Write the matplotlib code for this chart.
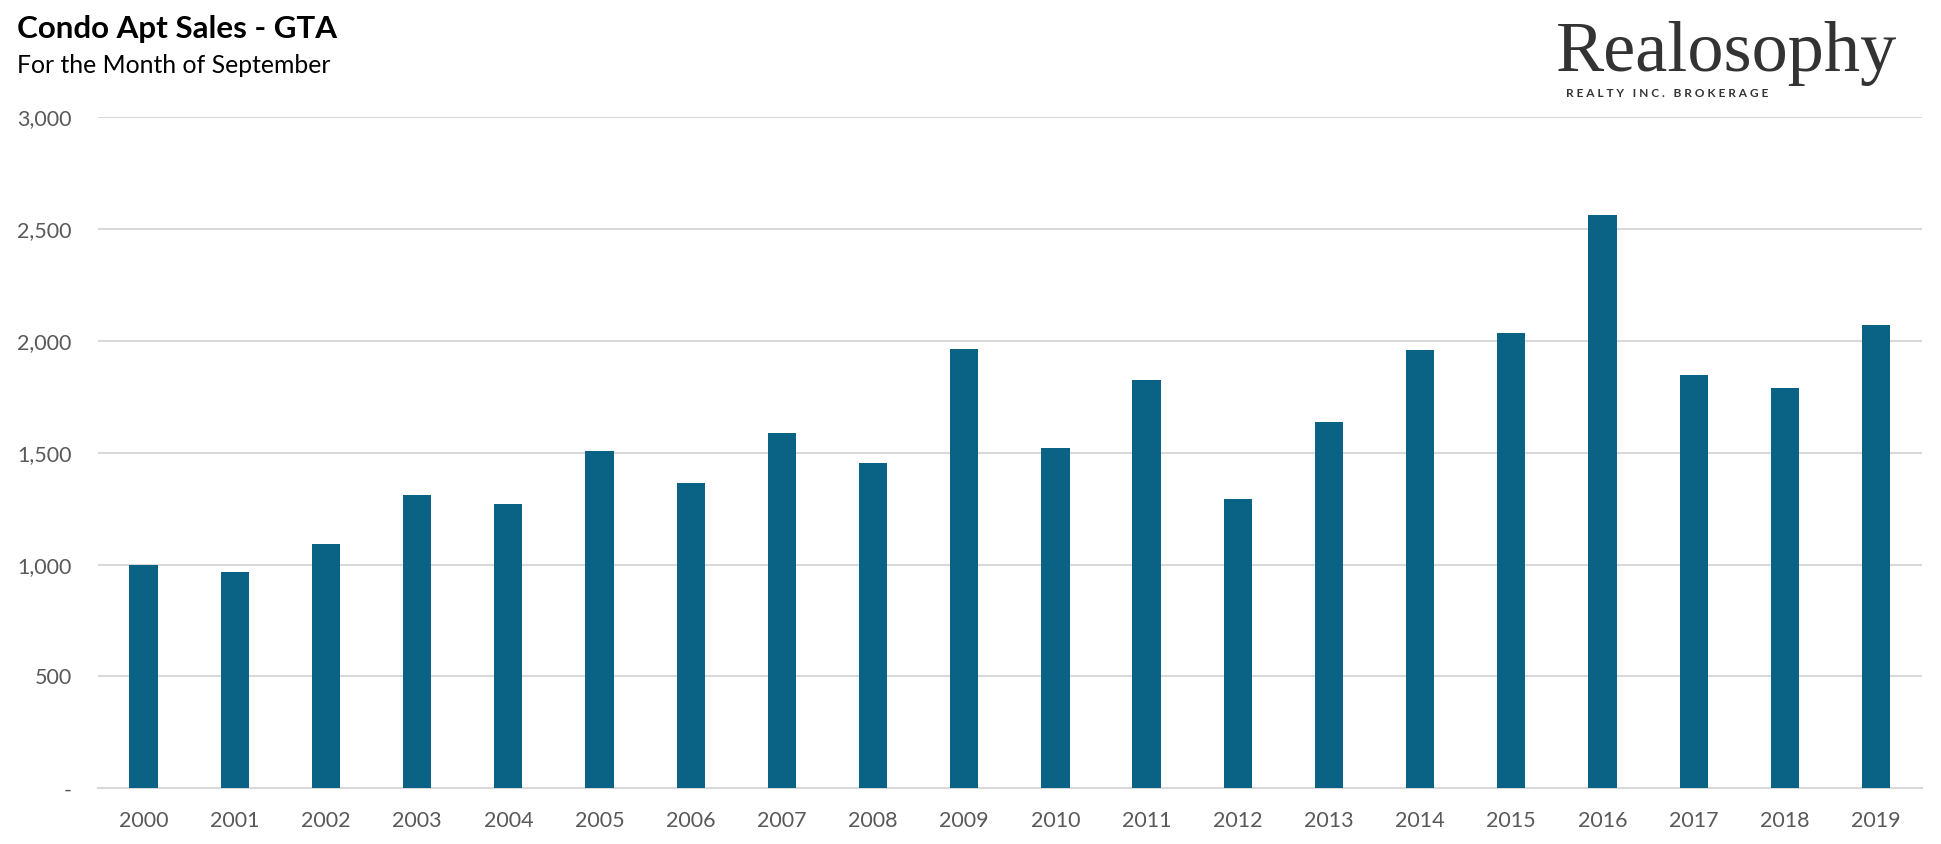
import matplotlib.pyplot as plt
import numpy as np

years = [str(y) for y in range(2000, 2020)]
sales = [1000, 969, 1094, 1312, 1273, 1506, 1367, 1589, 1456, 1965,
         1522, 1827, 1295, 1638, 1959, 2037, 2562, 1850, 1788, 2070]
yticks = [0, 500, 1000, 1500, 2000, 2500, 3000]
ylabels = ['-', '500', '1,000', '1,500', '2,000', '2,500', '3,000']

plt.rcParams['font.family'] = ['Lato', 'DejaVu Sans']

fig = plt.figure(figsize=(19.41, 8.44), dpi=100)
ax = fig.add_axes([0.0505, 0.066, 0.9395, 0.795])

x = np.arange(len(years))
ax.bar(x, sales, width=0.31, color='#0a6384', zorder=3)

ax.set_xlim(-0.5, len(years) - 0.5)
ax.set_ylim(0, 3000)
ax.set_yticks(yticks)
ax.set_yticklabels(ylabels)
ax.set_xticks(x)
ax.set_xticklabels(years)
ax.yaxis.grid(True, color='#d9d9d9', linewidth=1.5, zorder=0)
for s in ['top', 'right', 'left']:
    ax.spines[s].set_visible(False)
ax.spines['bottom'].set_color('#d9d9d9')
ax.spines['bottom'].set_linewidth(1.5)
ax.tick_params(axis='both', length=0, labelsize=15.5, colors='#595959')
ax.tick_params(axis='y', pad=19)
ax.tick_params(axis='x', pad=16)

fig.text(17 / 1941, 1 - 38 / 844, 'Condo Apt Sales - GTA', fontsize=22.6,
         fontweight='bold', color='black', va='baseline')
fig.text(17 / 1941, 1 - 73 / 844, 'For the Month of September', fontsize=17.8,
         color='black', va='baseline')

# logo
fig.text(1556 / 1941, 1 - 71 / 844, 'Realosophy', fontsize=52,
         family='Liberation Serif', color='#333333', va='baseline')
fig.text(1566 / 1941, 1 - 97 / 844, 'R E A L T Y   I N C .   B R O K E R A G E',
         fontsize=8.6, fontweight='bold', color='#333333', va='baseline')

fig.savefig('out.png', dpi=100)
